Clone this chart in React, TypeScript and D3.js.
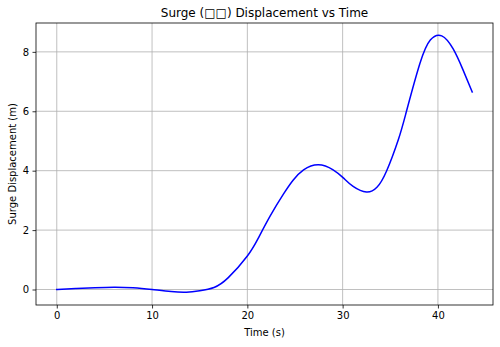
// @ts-nocheck
import React, { useEffect, useRef } from 'react';
import * as d3 from 'd3';

// Tiempo (s) y desplazamiento de surge (m)
const times = [0, 2, 4, 6, 8, 10, 12, 13.6, 15, 16.5, 18, 20, 21.15, 22.4, 23.8, 24.8, 25.9, 27.45, 29.0, 30.1, 31.1, 32.5, 33.6, 34.6, 35.85, 36.7, 38.1, 39.2, 40.4, 41.6, 42.6, 43.6];
const surge = [0, 0.03, 0.06, 0.08, 0.06, 0.0, -0.07, -0.09, -0.04, 0.07, 0.4, 1.13, 1.73, 2.48, 3.22, 3.68, 4.03, 4.2, 4.03, 3.75, 3.47, 3.28, 3.44, 3.98, 5.05, 6.0, 7.6, 8.4, 8.54, 8.1, 7.42, 6.65];
const xTicks = [0, 10, 20, 30, 40];
const yTicks = [0, 2, 4, 6, 8];

const title = 'Surge (\u25A1\u25A1) Displacement vs Time';
const xLabel = 'Time (s)';
const yLabel = 'Surge Displacement (m)';

const App: React.FC = () => {
  const chartRef = useRef<SVGSVGElement | null>(null);

  useEffect(() => {
    drawChart();
  }, []);

  const drawChart = () => {
    const W = 500;
    const H = 347;
    const margin = { top: 23, right: 7, bottom: 42, left: 36 };
    const width = W - margin.left - margin.right;
    const height = H - margin.top - margin.bottom;
    const font = 'DejaVu Sans, sans-serif';

    const data = times.map((t, i) => ({ t, v: surge[i] }));

    d3.select(chartRef.current).selectAll('*').remove();

    // Escalas con el 5% de margen como matplotlib
    const tMin = d3.min(times), tMax = d3.max(times);
    const vMin = d3.min(surge), vMax = d3.max(surge);
    const tPad = (tMax - tMin) * 0.05;
    const vPad = (vMax - vMin) * 0.05;

    const xScale = d3.scaleLinear().domain([tMin - tPad, tMax + tPad]).range([0, width]);
    const yScale = d3.scaleLinear().domain([vMin - vPad, vMax + vPad]).range([height, 0]);

    const svg = d3.select(chartRef.current)
      .append('g')
      .attr('transform', `translate(${margin.left},${margin.top})`);

    // Rejilla
    svg.append('g')
      .selectAll('line')
      .data(xTicks)
      .enter()
      .append('line')
      .attr('x1', (d) => xScale(d))
      .attr('x2', (d) => xScale(d))
      .attr('y1', 0)
      .attr('y2', height)
      .attr('stroke', '#b0b0b0')
      .attr('stroke-width', 0.8);

    svg.append('g')
      .selectAll('line')
      .data(yTicks)
      .enter()
      .append('line')
      .attr('x1', 0)
      .attr('x2', width)
      .attr('y1', (d) => yScale(d))
      .attr('y2', (d) => yScale(d))
      .attr('stroke', '#b0b0b0')
      .attr('stroke-width', 0.8);

    // Curva
    const line = d3.line()
      .x((d) => xScale(d.t))
      .y((d) => yScale(d.v))
      .curve(d3.curveNatural);

    svg.append('path')
      .datum(data)
      .attr('d', line)
      .attr('fill', 'none')
      .attr('stroke', '#0000ff')
      .attr('stroke-width', 1.5)
      .attr('stroke-linejoin', 'round')
      .attr('stroke-linecap', 'square');

    // Ejes
    const xAxis = svg.append('g')
      .attr('transform', `translate(0,${height})`)
      .call(d3.axisBottom(xScale).tickValues(xTicks).tickSize(3.5).tickPadding(3.5).tickFormat(d3.format('d')));
    xAxis.select('.domain').remove();
    xAxis.selectAll('line').attr('stroke', '#000').attr('stroke-width', 0.8);
    xAxis.selectAll('text').style('font-family', font).style('font-size', '10px').style('fill', '#000');

    const yAxis = svg.append('g')
      .call(d3.axisLeft(yScale).tickValues(yTicks).tickSize(3.5).tickPadding(3.5).tickFormat(d3.format('d')));
    yAxis.select('.domain').remove();
    yAxis.selectAll('line').attr('stroke', '#000').attr('stroke-width', 0.8);
    yAxis.selectAll('text').style('font-family', font).style('font-size', '10px').style('fill', '#000');

    // Marco
    svg.append('rect')
      .attr('x', 0)
      .attr('y', 0)
      .attr('width', width)
      .attr('height', height)
      .attr('fill', 'none')
      .attr('stroke', '#000')
      .attr('stroke-width', 0.8);

    // Textos
    svg.append('text')
      .attr('x', width / 2)
      .attr('y', -6)
      .attr('text-anchor', 'middle')
      .style('font-family', font)
      .style('font-size', '12px')
      .style('fill', '#000')
      .text(title);

    svg.append('text')
      .attr('x', width / 2)
      .attr('y', height + 30.5)
      .attr('text-anchor', 'middle')
      .style('font-family', font)
      .style('font-size', '10px')
      .style('fill', '#000')
      .text(xLabel);

    svg.append('text')
      .attr('transform', `translate(${15.5 - margin.left},${height / 2}) rotate(-90)`)
      .attr('text-anchor', 'middle')
      .style('font-family', font)
      .style('font-size', '10px')
      .style('fill', '#000')
      .text(yLabel);
  };

  return (
    <svg
      ref={chartRef}
      width={500}
      height={347}
      style={{ position: 'absolute', left: 0, top: 0, background: '#fff' }}
    ></svg>
  );
};

export default App;
